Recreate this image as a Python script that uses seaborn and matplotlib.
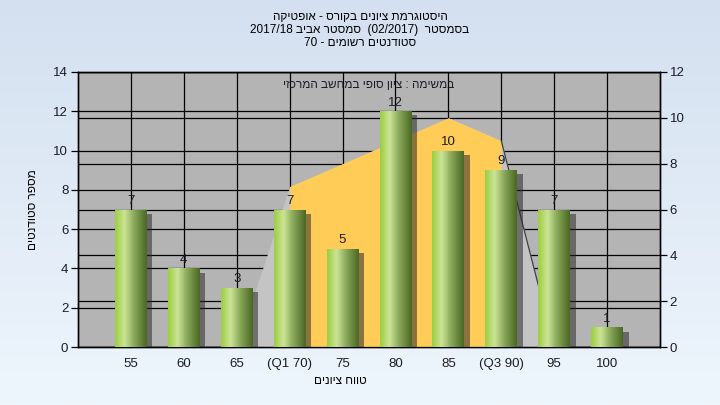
import re
import numpy as np
import pandas as pd
import matplotlib
matplotlib.use("Agg")
import matplotlib.pyplot as plt
import matplotlib.patheffects as pe
from matplotlib.colors import LinearSegmentedColormap
import seaborn as sns

# ---------------- data ----------------
grades = [55, 60, 65, 70, 75, 80, 85, 90, 95, 100]
counts = [7, 4, 3, 7, 5, 12, 10, 9, 7, 1]
tick_labels = ["55", "60", "65", "(Q1 70)", "75", "80", "85", "(Q3 90)", "95", "100"]
dist_grades = [65, 70, 85, 90, 95]
dist_values = [0, 7, 10, 9, 0]
q1_grade, q3_grade = 70, 90

title_lines = [
    "היסטוגרמת ציונים בקורס - אופטיקה",
    "בסמסטר  (02/2017)  סמסטר אביב 2017/18",
    "סטודנטים רשומים - 70",
]
note_text = "במשימה : ציון סופי במחשב המרכזי"
xlabel_text = "טווח ציונים"
ylabel_text = "מספר סטודנטים"


def vis(s):
    """Logical RTL string -> visual left-to-right order for matplotlib."""
    toks = re.findall(r"[0-9A-Za-z/.]+|[^0-9A-Za-z/.]+", s)
    out = []
    mirror = str.maketrans("()", ")(")
    for t in reversed(toks):
        if re.match(r"[0-9A-Za-z/.]", t):
            out.append(t)
        else:
            out.append(t[::-1].translate(mirror))
    return "".join(out)


sns.set_theme(style="white")
plt.rcParams["font.family"] = ["Liberation Sans", "DejaVu Sans"]
txt_color = "#1c1c28"

fig = plt.figure(figsize=(7.2, 4.05), dpi=100)

# background gradient
bg = fig.add_axes([0, 0, 1, 1], zorder=-10)
grad = np.linspace(0, 1, 256).reshape(-1, 1)
bg_cmap = LinearSegmentedColormap.from_list("bg", ["#d4e0f0", "#eef6fd"])
bg.imshow(grad, aspect="auto", cmap=bg_cmap, extent=[0, 1, 0, 1], origin="upper")
bg.axis("off")

rect = [78 / 720, 1 - 347 / 405, (660 - 78) / 720, (347 - 72) / 405]
axg = fig.add_axes(rect)
axg.set_facecolor("#b4b4b4")
axa = axg.twinx()
axb = axg.twinx()

# distribution area (right axis 0-12)
df_dist = pd.DataFrame({"grade": dist_grades, "value": dist_values})
axa.fill_between(df_dist["grade"], df_dist["value"], 0, color="#c4c4c4", lw=0, zorder=2)
inner = df_dist[(df_dist["grade"] >= q1_grade) & (df_dist["grade"] <= q3_grade)]
axa.fill_between(inner["grade"], inner["value"], 0, color="#ffcc57", lw=0, zorder=3)
outer_r = df_dist[df_dist["grade"] >= q3_grade]
axa.plot(outer_r["grade"], outer_r["value"], color="#404040", lw=0.9, zorder=4)
axa.set_ylim(0, 12)
axa.set_yticks(np.arange(0, 13, 2))
axa.grid(True, axis="y", color="black", lw=0.9)
axa.set_axisbelow(True)
axa.tick_params(axis="y", direction="out", length=5, width=0.9, colors="black",
                labelcolor=txt_color, labelsize=9.5, pad=2)

# bars (left axis 0-14)
df = pd.DataFrame({"grade": grades, "count": counts})
sns.barplot(data=df, x="grade", y="count", native_scale=True, width=0.6,
            color="#9acb3e", errorbar=None, ax=axb, zorder=5, linewidth=0)
axb.set_ylim(0, 14)
axb.set_yticks([])
axb.set_ylabel("")
axb.set_xlabel("")

bar_cmap = LinearSegmentedColormap.from_list(
    "bar", [(0, "#9ccd40"), (0.3, "#cbe496"), (0.6, "#8aa85a"), (1.0, "#4b6823")])
hgrad = np.linspace(0, 1, 128).reshape(1, -1)
for p in axb.patches:
    p.set_path_effects([pe.SimplePatchShadow(offset=(4, -3), shadow_rgbFace="#2a2a2a", alpha=0.55),
                        pe.Normal()])
    x0, w, h = p.get_x(), p.get_width(), p.get_height()
    im = axb.imshow(hgrad, aspect="auto", cmap=bar_cmap, extent=[x0, x0 + w, 0, h],
                    zorder=6, interpolation="bilinear")
    im.set_clip_path(p)

axb.bar_label(axb.containers[0], padding=2, fontsize=9.5, color=txt_color, zorder=7)

# limits / ticks on the base axes
axg.set_xlim(50, 105)
axb.set_xlim(50, 105)
axb.set_ylim(0, 14)
axg.set_ylim(0, 14)
axg.set_yticks(np.arange(0, 15, 2))
axg.set_xticks(grades)
axg.set_xticklabels(tick_labels)
axg.grid(True, color="black", lw=0.9)
axg.set_axisbelow(True)
axg.tick_params(axis="both", direction="out", length=5, width=0.9, colors="black",
                labelcolor=txt_color, labelsize=9.5, pad=2)
axg.tick_params(axis="x", length=4, pad=4)

for a in (axg, axa, axb):
    for s in a.spines.values():
        s.set_color("black")
        s.set_linewidth(0.9)

# texts
for i, line in enumerate(title_lines):
    fig.text(0.5, 1 - (17 + 13 * i) / 405, vis(line), ha="center", va="center",
             fontsize=8.5, color="black")
axg.text(0.5, 1 - 13 / 275, vis(note_text), transform=axg.transAxes, ha="center",
         va="center", fontsize=8.5, color=txt_color, zorder=10)
fig.text(340 / 720, 1 - 381 / 405, vis(xlabel_text), ha="center", va="center",
         fontsize=8.5, color="black")
fig.text(33 / 720, 1 - 210 / 405, vis(ylabel_text), ha="center", va="center",
         rotation=90, fontsize=8.5, color="black")

fig.savefig("out.png", dpi=100)
